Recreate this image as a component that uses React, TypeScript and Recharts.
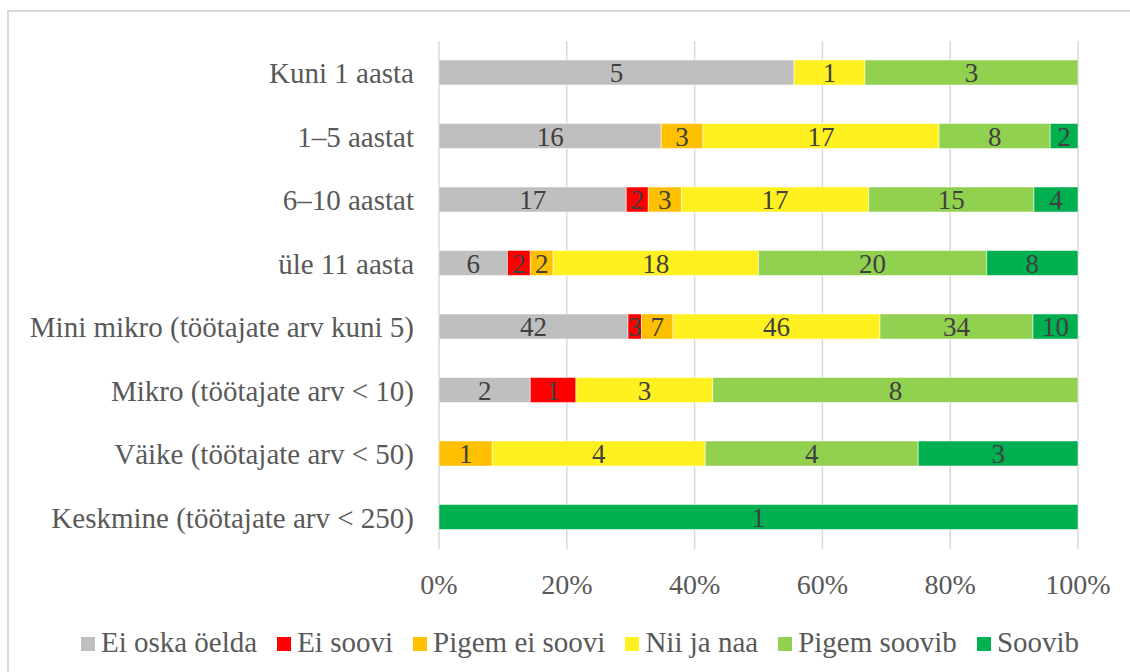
import { BarChart, Bar, XAxis, YAxis, CartesianGrid, LabelList } from 'recharts';

const categories = [
  'Kuni 1 aasta',
  '1–5 aastat',
  '6–10 aastat',
  'üle 11 aasta',
  'Mini mikro (töötajate arv kuni 5)',
  'Mikro (töötajate arv < 10)',
  'Väike (töötajate arv < 50)',
  'Keskmine (töötajate arv < 250)',
];

const eiOska = [5, 16, 17, 6, 42, 2, 0, 0];
const eiSoovi = [0, 0, 2, 2, 3, 1, 0, 0];
const pigemEiSoovi = [0, 3, 3, 2, 7, 0, 1, 0];
const niiJaNaa = [1, 17, 17, 18, 46, 3, 4, 0];
const pigemSoovib = [3, 8, 15, 20, 34, 8, 4, 0];
const soovib = [0, 2, 4, 8, 10, 0, 3, 1];

const xTicks = [0, 0.2, 0.4, 0.6, 0.8, 1];

const series = [
  { key: 'eiOska', name: 'Ei oska öelda', color: '#BFBFBF', values: eiOska },
  { key: 'eiSoovi', name: 'Ei soovi', color: '#FF0000', values: eiSoovi },
  { key: 'pigemEiSoovi', name: 'Pigem ei soovi', color: '#FFC000', values: pigemEiSoovi },
  { key: 'niiJaNaa', name: 'Nii ja naa', color: '#FFF01F', values: niiJaNaa },
  { key: 'pigemSoovib', name: 'Pigem soovib', color: '#92D050', values: pigemSoovib },
  { key: 'soovib', name: 'Soovib', color: '#00B050', values: soovib },
];

const data = categories.map((name, i) => {
  const row: Record<string, string | number> = { name };
  series.forEach((s) => {
    row[s.key] = s.values[i];
  });
  return row;
});

const FONT = '"Liberation Serif", "Times New Roman", Tinos, serif';

export default function App() {
  return (
    <div style={{ position: 'absolute', left: 0, top: 0, width: 1130, height: 672, overflow: 'hidden', background: '#fff', fontFamily: FONT }}>
      <div style={{ position: 'absolute', left: 7, top: 10, width: 1140, height: 700, border: '2px solid #d9d9d9' }} />
      <BarChart
        width={1130}
        height={672}
        data={data}
        layout="vertical"
        stackOffset="expand"
        barSize={25}
        margin={{ top: 41, right: 52, left: 0, bottom: 63 }}
        style={{ position: 'absolute', left: 0, top: 0, fontFamily: FONT }}
      >
        <CartesianGrid horizontal={false} stroke="#d9d9d9" strokeWidth={1.5} />
        <XAxis
          type="number"
          domain={[0, 1]}
          ticks={xTicks}
          tickFormatter={(v: number) => `${Math.round(v * 100)}%`}
          axisLine={false}
          tickLine={false}
          tickSize={0}
          tickMargin={25}
          height={60}
          tick={{ fill: '#595959', fontSize: 28, fontFamily: FONT }}
        />
        <YAxis
          type="category"
          dataKey="name"
          width={439}
          axisLine={false}
          tickLine={false}
          tickSize={0}
          tickMargin={25}
          interval={0}
          tick={{ fill: '#595959', fontSize: 29, fontFamily: FONT }}
        />
        {series.map((s) => (
          <Bar
            key={s.key}
            dataKey={s.key}
            name={s.name}
            stackId="a"
            fill={s.color}
            stroke="#fff"
            strokeWidth={0.5}
            isAnimationActive={false}
          >
            <LabelList
              dataKey={s.key}
              position="center"
              formatter={(v: number) => (v ? v : '')}
              style={{ fill: '#404040', fontSize: 27, fontFamily: FONT }}
            />
          </Bar>
        ))}
      </BarChart>
      <div
        style={{
          position: 'absolute',
          top: 624,
          left: 0,
          width: 1130,
          display: 'flex',
          justifyContent: 'center',
          paddingLeft: 30,
          boxSizing: 'border-box',
          fontSize: 29,
          lineHeight: '36px',
          color: '#595959',
          whiteSpace: 'nowrap',
        }}
      >
        {series.map((s, i) => (
          <div key={s.key} style={{ display: 'flex', alignItems: 'center', marginRight: i < series.length - 1 ? 20 : 0 }}>
            <span style={{ display: 'inline-block', width: 14, height: 14, background: s.color, marginRight: 6, marginTop: 4 }} />
            <span>{s.name}</span>
          </div>
        ))}
      </div>
    </div>
  );
}
